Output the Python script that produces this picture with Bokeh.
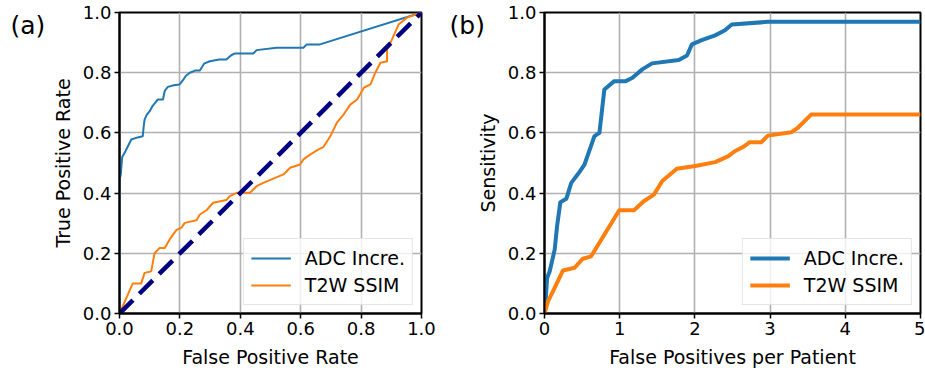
from bokeh.plotting import figure
from bokeh.layouts import row
from bokeh.models import Range1d, FixedTicker, NumeralTickFormatter, Legend, LegendItem
from bokeh.core.properties import value
from bokeh.embed import file_html
from bokeh.resources import INLINE

# ---- Data ----
roc_adc_fpr = [0, 0, 0.004, 0.009, 0.02, 0.03, 0.039, 0.06, 0.077, 0.08, 0.083, 0.09, 0.1, 0.11,
               0.127, 0.144, 0.15, 0.16, 0.18, 0.199, 0.21, 0.22, 0.233, 0.25, 0.266, 0.28, 0.299,
               0.33, 0.354, 0.37, 0.382, 0.443, 0.454, 0.52, 0.609, 0.62, 0.664, 1.0]
roc_adc_tpr = [0, 0.445, 0.46, 0.52, 0.54, 0.56, 0.578, 0.585, 0.589, 0.62, 0.644, 0.66, 0.672, 0.69,
               0.711, 0.711, 0.74, 0.753, 0.758, 0.761, 0.775, 0.79, 0.8, 0.807, 0.807, 0.83, 0.838,
               0.844, 0.844, 0.858, 0.864, 0.864, 0.875, 0.883, 0.883, 0.894, 0.894, 1.0]

roc_t2w_fpr = [0, 0.044, 0.072, 0.083, 0.105, 0.116, 0.133, 0.15, 0.166, 0.188, 0.205, 0.216, 0.255,
               0.266, 0.288, 0.31, 0.354, 0.365, 0.388, 0.432, 0.454, 0.476, 0.498, 0.543, 0.565,
               0.598, 0.609, 0.631, 0.659, 0.675, 0.698, 0.72, 0.742, 0.764, 0.787, 0.809, 0.831,
               0.847, 0.864, 0.886, 0.886, 0.902, 0.919, 0.924, 0.952, 1.0]
roc_t2w_tpr = [0, 0.1, 0.1, 0.135, 0.14, 0.2, 0.218, 0.218, 0.246, 0.277, 0.285, 0.301, 0.31,
               0.329, 0.343, 0.368, 0.377, 0.39, 0.401, 0.401, 0.423, 0.434, 0.443, 0.462, 0.484,
               0.495, 0.512, 0.528, 0.545, 0.553, 0.589, 0.634, 0.661, 0.694, 0.711, 0.75, 0.761,
               0.8, 0.833, 0.838, 0.877, 0.91, 0.948, 0.96, 0.983, 1.0]

chance_x = [0, 1]
chance_y = [0, 1]

froc_adc_fppp = [0, 0.02, 0.035, 0.07, 0.105, 0.136, 0.167, 0.211, 0.29, 0.356, 0.45, 0.532, 0.664,
                 0.73, 0.796, 0.928, 1.08, 1.17, 1.30, 1.43, 1.785, 1.895, 1.96, 2.09, 2.27, 2.40,
                 2.49, 2.97, 5.0]
froc_adc_sens = [0, 0.06, 0.118, 0.141, 0.179, 0.213, 0.29, 0.37, 0.381, 0.434, 0.465, 0.495, 0.589,
                 0.6, 0.744, 0.772, 0.772, 0.783, 0.811, 0.831, 0.842, 0.857, 0.894, 0.908, 0.924,
                 0.941, 0.96, 0.969, 0.969]

froc_t2w_fppp = [0, 0.048, 0.114, 0.246, 0.40, 0.51, 0.62, 0.994, 1.19, 1.32, 1.455, 1.566, 1.76,
                 2.005, 2.27, 2.445, 2.53, 2.64, 2.73, 2.885, 2.97, 3.28, 3.37, 3.545, 5.0]
froc_t2w_sens = [0, 0.041, 0.074, 0.143, 0.152, 0.182, 0.19, 0.343, 0.343, 0.373, 0.395, 0.44, 0.481,
                 0.49, 0.503, 0.523, 0.539, 0.553, 0.569, 0.569, 0.591, 0.602, 0.617, 0.661, 0.661]

series_names = ["ADC Incre.", "T2W SSIM"]
panel_tags = ["(a)", "(b)"]
roc_ticks = [0, 0.2, 0.4, 0.6, 0.8, 1.0]
froc_xticks = [0, 1, 2, 3, 4, 5]

BLUE = "#1f77b4"
ORANGE = "#ff7f0e"
FONT = "DejaVu Sans"


def style(p, xticks, xfmt):
    p.background_fill_color = "white"
    p.border_fill_color = "white"
    p.outline_line_color = "black"
    p.outline_line_width = 2
    p.outline_line_alpha = 1
    for ax in (p.xaxis[0], p.yaxis[0]):
        ax.axis_line_color = "black"
        ax.axis_line_width = 2
        ax.major_tick_line_color = "black"
        ax.major_tick_line_width = 1.5
        ax.major_tick_out = 5
        ax.major_tick_in = 0
        ax.minor_tick_line_color = None
        ax.major_label_text_font = FONT
        ax.major_label_text_font_size = "18px"
        ax.major_label_text_color = "black"
        ax.axis_label_text_font = FONT
        ax.axis_label_text_font_size = "19px"
        ax.axis_label_text_font_style = "normal"
        ax.axis_label_text_color = "black"
        ax.major_label_standoff = 3
    p.yaxis[0].axis_label_standoff = 6
    p.xaxis[0].axis_label_standoff = 8
    p.xaxis[0].ticker = FixedTicker(ticks=xticks)
    p.yaxis[0].ticker = FixedTicker(ticks=roc_ticks)
    if xfmt:
        p.xaxis[0].formatter = NumeralTickFormatter(format="0.0")
    p.yaxis[0].formatter = NumeralTickFormatter(format="0.0")
    p.xgrid[0].ticker = FixedTicker(ticks=xticks)
    p.ygrid[0].ticker = FixedTicker(ticks=roc_ticks)
    for g in (p.xgrid[0], p.ygrid[0]):
        g.grid_line_color = "#b0b0b0"
        g.grid_line_width = 1.6


def style_legend(lg):
    lg.label_text_font = FONT
    lg.label_text_font_size = "19px"
    lg.label_text_color = "black"
    lg.glyph_width = 40
    lg.glyph_height = 24
    lg.label_height = 24
    lg.label_standoff = 14
    lg.spacing = 3
    lg.padding = 7
    lg.margin = 8
    lg.border_line_color = "#cccccc"
    lg.border_line_width = 1.5
    lg.background_fill_color = "white"
    lg.background_fill_alpha = 0.8


def add_tag(p, x, y, tag):
    # panel tag drawn at overlay level so it is not clipped to the frame
    p.text(x=[x], y=[y], text=[tag], text_font=value(FONT), text_font_size="25px",
           text_baseline="middle", text_color="black", level="overlay")


# ---- Panel (a): ROC ----
p1 = figure(frame_width=302, frame_height=301, output_backend="svg", toolbar_location=None,
            x_range=Range1d(0, 1), y_range=Range1d(0, 1),
            min_border_left=119, min_border_right=25, min_border_top=12, min_border_bottom=58)
style(p1, roc_ticks, True)
p1.xaxis.axis_label = "False Positive Rate"
p1.yaxis.axis_label = "True Positive Rate"

r1 = p1.line(roc_adc_fpr, roc_adc_tpr, line_color=BLUE, line_width=2, line_join="round")
r2 = p1.line(roc_t2w_fpr, roc_t2w_tpr, line_color=ORANGE, line_width=2, line_join="round")
p1.line(chance_x, chance_y, line_color="navy", line_width=4.5, line_dash="19 9")

leg1 = Legend(items=[LegendItem(label=series_names[0], renderers=[r1]),
                     LegendItem(label=series_names[1], renderers=[r2])],
              location="bottom_right")
style_legend(leg1)
p1.add_layout(leg1, "center")
add_tag(p1, -0.361, 0.957, panel_tags[0])

# ---- Panel (b): FROC ----
p2 = figure(frame_width=376, frame_height=301, output_backend="svg", toolbar_location=None,
            x_range=Range1d(0, 5), y_range=Range1d(0, 1),
            min_border_left=98, min_border_right=5, min_border_top=12, min_border_bottom=58)
style(p2, froc_xticks, False)
p2.xaxis.axis_label = "False Positives per Patient"
p2.yaxis.axis_label = "Sensitivity"

r3 = p2.line(froc_adc_fppp, froc_adc_sens, line_color=BLUE, line_width=4, line_join="round")
r4 = p2.line(froc_t2w_fppp, froc_t2w_sens, line_color=ORANGE, line_width=4, line_join="round")

leg2 = Legend(items=[LegendItem(label=series_names[0], renderers=[r3]),
                     LegendItem(label=series_names[1], renderers=[r4])],
              location="bottom_right")
style_legend(leg2)
p2.add_layout(leg2, "center")
add_tag(p2, -1.263, 0.957, panel_tags[1])

layout = row(p1, p2)
open("out.html", "w").write(file_html(layout, INLINE))
